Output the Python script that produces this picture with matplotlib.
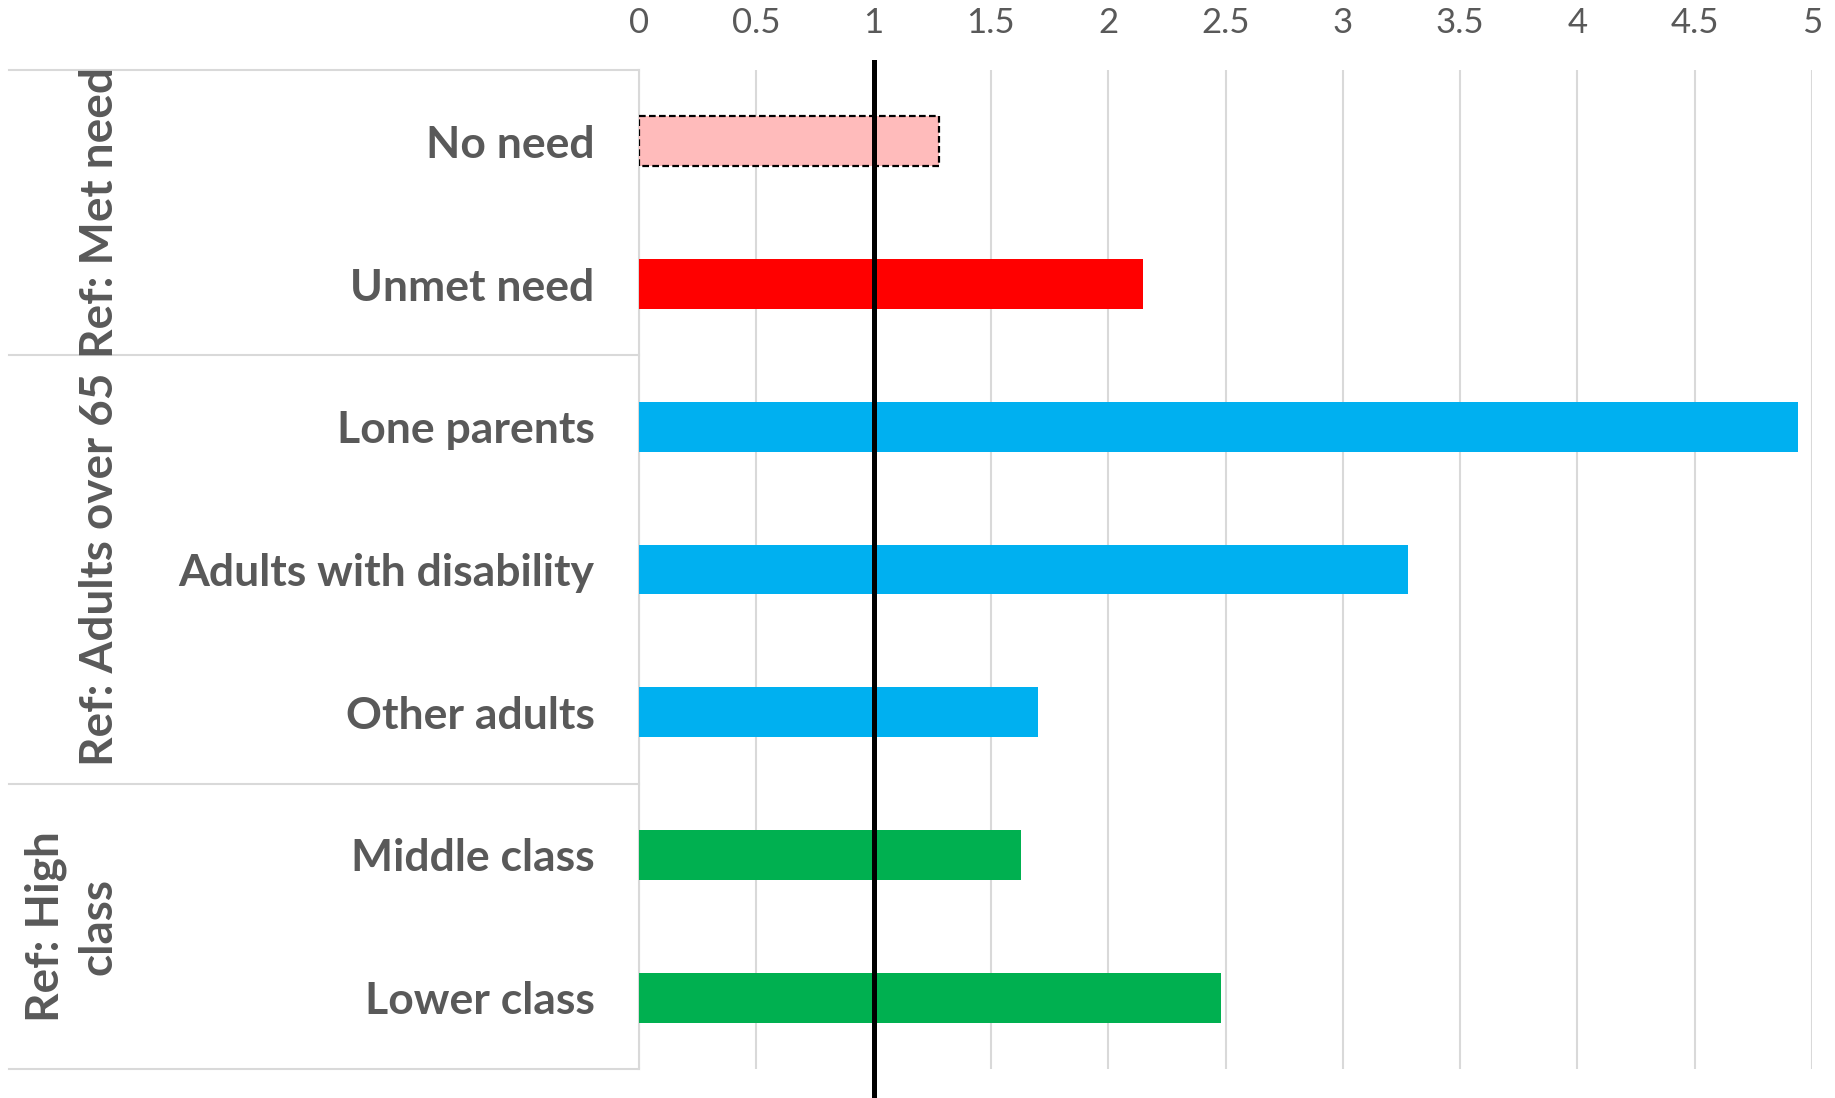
import matplotlib
matplotlib.use("Agg")
import matplotlib.pyplot as plt
from matplotlib.lines import Line2D

plt.rcParams['font.family'] = ['Lato', 'DejaVu Sans']

categories = ["No need", "Unmet need", "Lone parents", "Adults with disability",
              "Other adults", "Middle class", "Lower class"]
values = [1.28, 2.15, 4.94, 3.28, 1.70, 1.63, 2.48]
colors = ["#FFBBBB", "#FF0000", "#00B0F0", "#00B0F0", "#00B0F0", "#00B050", "#00B050"]
groups = ["Ref: Met need", "Ref: Adults over 65", "Ref: High\nclass"]
group_sizes = [2, 3, 2]
ticks = [0, 0.5, 1, 1.5, 2, 2.5, 3, 3.5, 4, 4.5, 5]
tick_labels = ["0", "0.5", "1", "1.5", "2", "2.5", "3", "3.5", "4", "4.5", "5"]

W, H = 1835, 1098
txt = "#595959"
grid = "#D9D9D9"

fig = plt.figure(figsize=(W / 100, H / 100), dpi=100)
ax_l, ax_r, ax_t, ax_b = 639, 1812, 70, 1069
ax = fig.add_axes([ax_l / W, 1 - ax_b / H, (ax_r - ax_l) / W, (ax_b - ax_t) / H])

ypos = list(range(len(categories)))
for i, (v, c) in enumerate(zip(values, colors)):
    if i == 0:
        # dashed outline on the first bar
        ax.barh(i, v, height=0.35, color=c, edgecolor="black", linestyle=(0, (3, 1.5)),
                linewidth=1.6, zorder=3)
    else:
        ax.barh(i, v, height=0.35, color=c, zorder=3)

ax.set_xlim(0, 5)
ax.set_ylim(len(categories) - 0.5, -0.5)
ax.set_xticks(ticks)
ax.set_xticklabels(tick_labels)
ax.xaxis.tick_top()
ax.tick_params(axis="x", length=0, pad=22, labelsize=25, labelcolor=txt)
ax.set_yticks(ypos)
ax.set_yticklabels(categories, fontsize=32, fontweight="bold", color=txt)
ax.tick_params(axis="y", length=0, pad=32)
ax.grid(axis="x", color=grid, linewidth=1.5, zorder=0)
for s in ["top", "right", "bottom"]:
    ax.spines[s].set_visible(False)
ax.spines["left"].set_color(grid)
ax.spines["left"].set_linewidth(1.5)

# reference line at 1
ax.axvline(1, ymin=-0.03, ymax=1.008, color="black", linewidth=3.6, clip_on=False, zorder=5)

# group separators and labels
step = (ax_b - ax_t) / len(categories)
start = 0
fig.add_artist(Line2D([9 / W, ax_l / W], [1 - ax_t / H] * 2, color=grid, linewidth=1.5))
for g, n in zip(groups, group_sizes):
    y_end = ax_t + (start + n) * step
    fig.add_artist(Line2D([9 / W, ax_l / W], [1 - y_end / H] * 2, color=grid, linewidth=1.5))
    yc = ax_t + (start + n / 2) * step
    xc = 100 if "\n" not in g else 72
    fig.text(xc / W, 1 - yc / H, g, rotation=90, ha="center", va="center",
             fontsize=33, fontweight="bold", color=txt, linespacing=1.3)
    start += n

fig.savefig("out.png", dpi=100)
